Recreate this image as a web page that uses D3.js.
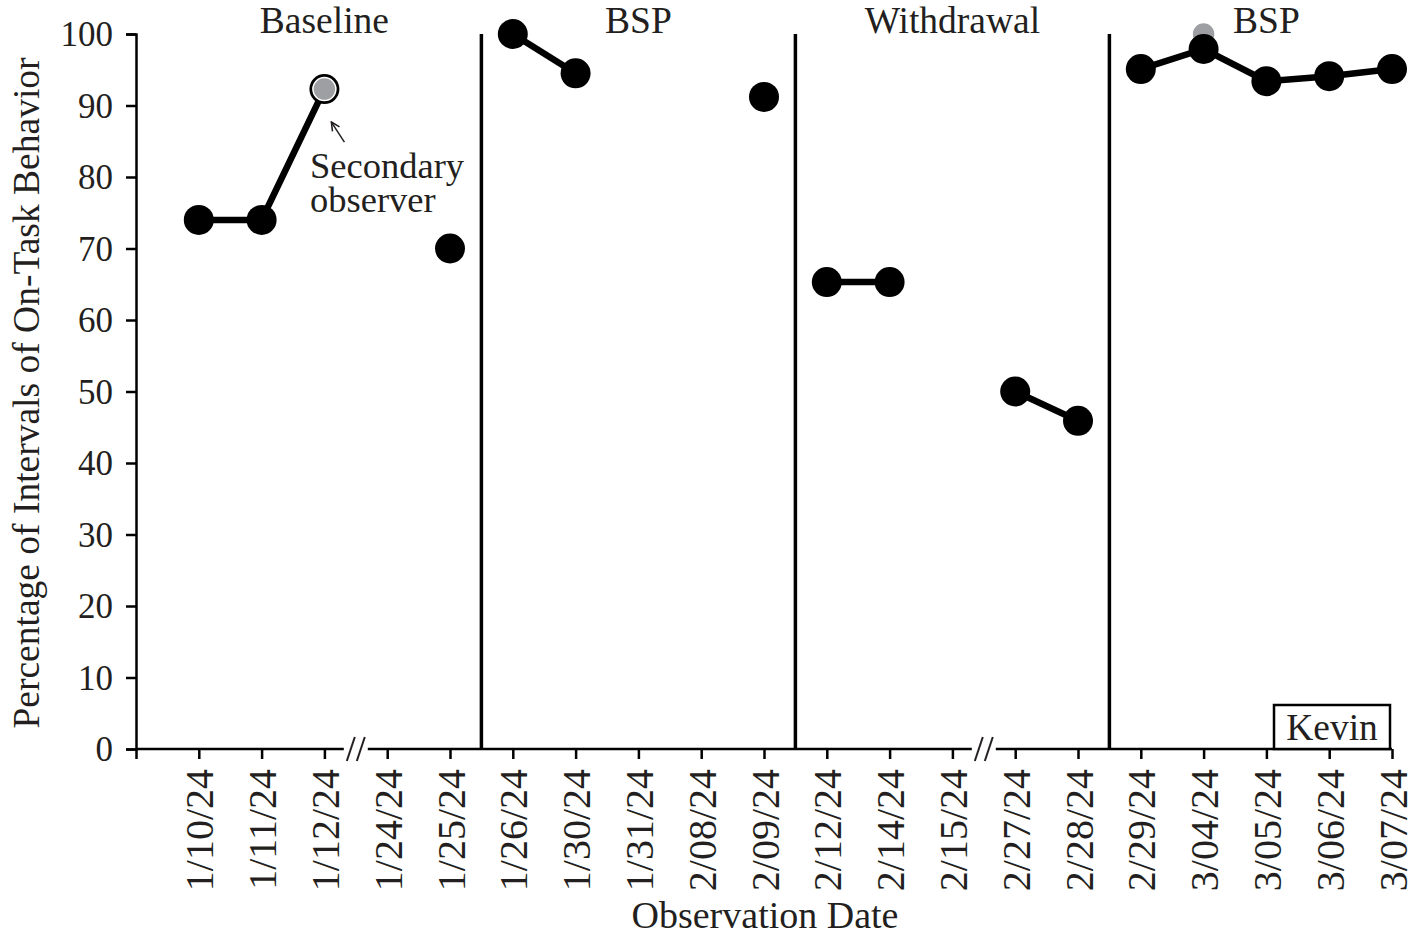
<!DOCTYPE html>
<html>
<head>
<meta charset="utf-8">
<script src="https://cdn.jsdelivr.net/npm/d3@7"></script>
<style>
  body { margin: 0; background: #fff; }
  svg text { font-family: "Liberation Serif", "Times New Roman", serif; fill: #231f20; }
</style>
</head>
<body>
<div id="chart"></div>
<script>
// observation dates (x categories)
const dates = ["1/10/24", "1/11/24", "1/12/24", "1/24/24", "1/25/24",
    "1/26/24", "1/30/24", "1/31/24", "2/08/24", "2/09/24",
    "2/12/24", "2/14/24", "2/15/24", "2/27/24", "2/28/24",
    "2/29/24", "3/04/24", "3/05/24", "3/06/24", "3/07/24"];

// percentage of intervals on-task, primary observer (null = no session)
const onTask = [74, 74, 92.3, null, 70,
    100, 94.5, null, null, 91.2,
    65.3, 65.3, null, 50, 45.9,
    95.1, 97.9, 93.4, 94.1, 95.1];

// secondary observer (IOA) points
const secondDates = ["1/12/24", "3/04/24"];
const secondValues = [92.3, 100];

// phases: label, first and last date
const phaseLabels = ["Baseline", "BSP", "Withdrawal", "BSP"];
const phaseFirst = ["1/10/24", "1/26/24", "2/12/24", "2/29/24"];
const phaseLast = ["1/25/24", "2/09/24", "2/28/24", "3/07/24"];

// axis breaks come after these dates
const breakAfter = ["1/12/24", "2/15/24"];

const yTicks = [0, 10, 20, 30, 40, 50, 60, 70, 80, 90, 100];

const width = 1421;
const height = 942;
const PLOT_LEFT = 136, PLOT_RIGHT = 1392, PLOT_TOP = 34, PLOT_BOTTOM = 749;
const FONT = 37.5;

const svg = d3.select("#chart")
    .append("svg")
    .attr("width", width)
    .attr("height", height);

// index -1 is the empty slot at the y axis
const x = d3.scaleLinear().domain([-1, dates.length - 1]).range([PLOT_LEFT, PLOT_RIGHT]);
const y = d3.scaleLinear().domain([0, 100]).range([PLOT_BOTTOM, PLOT_TOP]);
const xi = d => x(dates.indexOf(d));

// y axis
const yAxis = svg.append("g")
    .attr("transform", `translate(${PLOT_LEFT},0)`)
    .call(d3.axisLeft(y).tickValues(yTicks).tickSize(10).tickPadding(13));
yAxis.select(".domain").attr("stroke", "#000").attr("stroke-width", 2.5);
yAxis.selectAll(".tick line").attr("stroke", "#000").attr("stroke-width", 2.5);
yAxis.selectAll(".tick text")
    .attr("font-size", 35)
    .attr("font-family", "Liberation Serif")
    .attr("fill", "#231f20")
    .attr("dy", "0.34em");

// x axis: ticks + labels, baseline drawn separately to leave the breaks
const xAxis = svg.append("g")
    .attr("transform", `translate(0,${PLOT_BOTTOM})`)
    .call(d3.axisBottom(x)
        .tickValues(d3.range(-1, dates.length))
        .tickSize(10)
        .tickFormat(i => i < 0 ? "" : dates[i]));
xAxis.select(".domain").remove();
xAxis.selectAll(".tick line").attr("stroke", "#000").attr("stroke-width", 2.5);
xAxis.selectAll(".tick text")
    .attr("font-size", 40)
    .attr("font-family", "Liberation Serif")
    .attr("fill", "#231f20")
    .attr("text-anchor", "end")
    .attr("transform", "rotate(-90)")
    .attr("x", -20)
    .attr("y", 0)
    .attr("dy", "0.35em");

// baseline segments between breaks
const gap = 12;
const breakX = breakAfter.map(d => x(dates.indexOf(d) + 0.5));
const stops = [PLOT_LEFT].concat(breakX.flatMap(b => [b - gap, b + gap])).concat([PLOT_RIGHT]);
const segs = d3.range(0, stops.length, 2).map(k => [stops[k], stops[k + 1]]);
svg.append("g").selectAll("line")
    .data(segs)
    .join("line")
    .attr("x1", d => d[0]).attr("x2", d => d[1])
    .attr("y1", PLOT_BOTTOM).attr("y2", PLOT_BOTTOM)
    .attr("stroke", "#000").attr("stroke-width", 2.5);

// "//" break marks
svg.append("g").selectAll("g")
    .data(breakX)
    .join("g")
    .attr("transform", d => `translate(${d},${PLOT_BOTTOM})`)
    .selectAll("line")
    .data([-5, 5])
    .join("line")
    .attr("x1", d => d - 4).attr("y1", 12)
    .attr("x2", d => d + 4).attr("y2", -12)
    .attr("stroke", "#231f20").attr("stroke-width", 2);

// phase change lines
const phaseLines = phaseFirst.slice(1).map(d => x(dates.indexOf(d) - 0.5));
svg.append("g").selectAll("line")
    .data(phaseLines)
    .join("line")
    .attr("x1", d => d).attr("x2", d => d)
    .attr("y1", PLOT_TOP).attr("y2", PLOT_BOTTOM)
    .attr("stroke", "#000").attr("stroke-width", 3.5);

// phase labels
svg.append("g").selectAll("text")
    .data(phaseLabels)
    .join("text")
    .attr("x", (d, i) => (xi(phaseFirst[i]) + xi(phaseLast[i])) / 2)
    .attr("y", 33)
    .attr("text-anchor", "middle")
    .attr("font-size", FONT)
    .text(d => d);

// data lines, one path per phase
const pts = dates.map((d, i) => ({ i: i, v: onTask[i] }));
const line = d3.line()
    .defined(d => d.v != null)
    .x(d => x(d.i))
    .y(d => y(d.v));

svg.append("g").selectAll("path")
    .data(phaseFirst.map((f, k) => pts.slice(dates.indexOf(f), dates.indexOf(phaseLast[k]) + 1)))
    .join("path")
    .attr("d", line)
    .attr("fill", "none")
    .attr("stroke", "#000")
    .attr("stroke-width", 6.5);

// secondary observer points: under the primary one unless they coincide
const second = secondDates.map((d, k) => ({ i: dates.indexOf(d), v: secondValues[k] }));
const sameAsPrimary = d => Math.abs(onTask[d.i] - d.v) < 0.5;

function drawSecond(sel) {
    sel.attr("cx", d => x(d.i))
        .attr("cy", d => y(d.v))
        .attr("r", 11.5)
        .attr("fill", "#9d9fa2")
        .attr("stroke", "#fff")
        .attr("stroke-width", 1.5);
}

svg.append("g").selectAll("circle")
    .data(second.filter(d => !sameAsPrimary(d)))
    .join("circle")
    .call(drawSecond);

svg.append("g").selectAll("circle")
    .data(pts.filter(d => d.v != null))
    .join("circle")
    .attr("cx", d => x(d.i))
    .attr("cy", d => y(d.v))
    .attr("r", 15)
    .attr("fill", "#000");

svg.append("g").selectAll("circle")
    .data(second.filter(sameAsPrimary))
    .join("circle")
    .call(drawSecond);

// annotation for the secondary observer
svg.append("defs").append("marker")
    .attr("id", "head")
    .attr("viewBox", "0 0 10 10")
    .attr("refX", 9).attr("refY", 5)
    .attr("markerWidth", 7).attr("markerHeight", 7)
    .attr("orient", "auto")
    .append("path")
    .attr("d", "M1,1 L9,5 L1,9")
    .attr("fill", "none")
    .attr("stroke", "#231f20")
    .attr("stroke-width", 1.5);

const ann = second[0];
svg.append("line")
    .attr("x1", x(ann.i) + 20).attr("y1", y(ann.v) + 53)
    .attr("x2", x(ann.i) + 7).attr("y2", y(ann.v) + 33)
    .attr("stroke", "#231f20")
    .attr("stroke-width", 1.5)
    .attr("marker-end", "url(#head)");

svg.append("text")
    .attr("x", 310)
    .attr("y", 178)
    .attr("font-size", 36.5)
    .selectAll("tspan")
    .data(["Secondary", "observer"])
    .join("tspan")
    .attr("x", 310)
    .attr("dy", (d, i) => i ? 34 : 0)
    .text(d => d);

// participant label
const kevin = svg.append("g");
kevin.append("rect")
    .attr("x", 1274).attr("y", 705)
    .attr("width", 116).attr("height", 44)
    .attr("fill", "#fff")
    .attr("stroke", "#000").attr("stroke-width", 2.5);
kevin.append("text")
    .attr("x", 1332).attr("y", 740)
    .attr("text-anchor", "middle")
    .attr("font-size", FONT)
    .text("Kevin");

// axis titles
svg.append("text")
    .attr("transform", "translate(39,393) rotate(-90)")
    .attr("text-anchor", "middle")
    .attr("font-size", FONT)
    .text("Percentage of Intervals of On-Task Behavior");

svg.append("text")
    .attr("x", 765)
    .attr("y", 928)
    .attr("text-anchor", "middle")
    .attr("font-size", 38)
    .text("Observation Date");
</script>
</body>
</html>
